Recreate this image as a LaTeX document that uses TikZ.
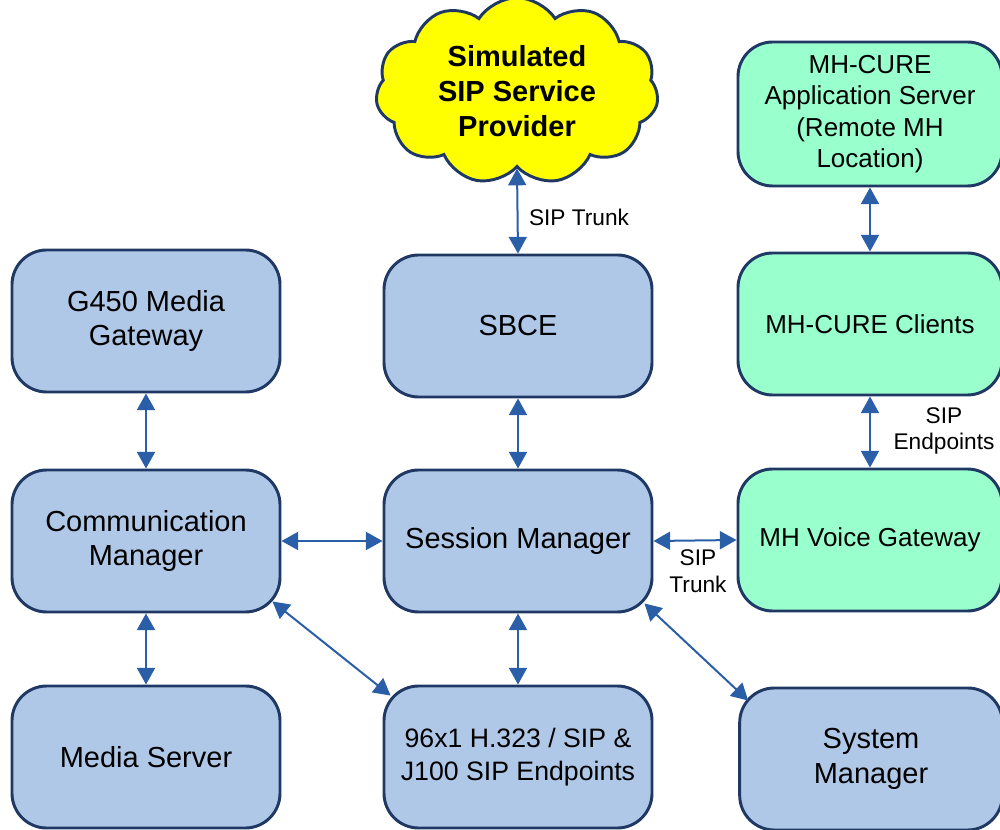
\documentclass[tikz,border=0pt]{standalone}
\usepackage{fontspec}
\setmainfont{Liberation Sans}
\usetikzlibrary{shapes.symbols,arrows.meta}
\definecolor{boxblue}{HTML}{B0C8E8}
\definecolor{boxgreen}{HTML}{99FFCC}
\definecolor{edgecol}{HTML}{1F3864}
\definecolor{arrcol}{HTML}{2A5FA8}
\definecolor{cloudyellow}{HTML}{FFFF00}
\begin{document}
\begin{tikzpicture}[x=0.75pt,y=-0.75pt,
  box/.style={draw=edgecol, line width=2.2pt, rounded corners=26pt,
    minimum width=201pt, minimum height=106.5pt, align=center,
    font=\fontsize{21.75}{26}\selectfont, inner sep=0pt},
  bluebox/.style={box, fill=boxblue},
  greenbox/.style={box, fill=boxgreen, minimum width=198pt, font=\fontsize{19.5}{23.5}\selectfont},
  link/.style={draw=arrcol, line width=1.5pt,
    {Triangle[width=13.5pt,length=12.5pt]}-{Triangle[width=13.5pt,length=12.5pt]}},
  lbl/.style={align=center, font=\fontsize{17}{20}\selectfont, inner sep=0pt}
]
\useasboundingbox (0,0) rectangle (1000,830);
% cloud
\node[cloud, cloud puffs=11, cloud puff arc=115, aspect=1.5, draw=edgecol, line width=2.2pt,
  fill=cloudyellow, minimum width=212pt, minimum height=140pt, align=center,
  font=\bfseries\fontsize{21.75}{26}\selectfont, inner sep=0pt] (sp) at (517,91)
  {Simulated\\SIP Service\\Provider};
% blue boxes
\node[bluebox] (g450) at (146,321) {G450 Media\\Gateway};
\node[bluebox] (cm) at (146,541) {Communication\\Manager};
\node[bluebox] (ms) at (146,757) {Media Server};
\node[bluebox] (sbce) at (518,326) {SBCE};
\node[bluebox] (sm) at (518,541) {Session Manager};
\node[bluebox, font=\fontsize{20}{25}\selectfont] (ep) at (518,757) {96x1 H.323 / SIP \&\\J100 SIP Endpoints};
\node[bluebox, minimum width=197pt] (sys) at (871,759) {System\\Manager};
% green boxes
\node[greenbox, minimum height=108pt] (app) at (870,114) {MH-CURE\\Application Server\\(Remote MH\\Location)};
\node[greenbox] (cl) at (870,324) {MH-CURE Clients};
\node[greenbox] (vg) at (870,540) {MH Voice Gateway};
% links
\draw[link] (sp.south) -- (sbce.north);
\draw[link] (sbce.south) -- (sm.north);
\draw[link] (g450.south) -- (cm.north);
\draw[link] (cm.south) -- (ms.north);
\draw[link] (cm.east) -- (sm.west);
\draw[link] (sm.south) -- (ep.north);
\draw[link] (sm.east) -- (vg.west);
\draw[link] (app.south) -- (cl.north);
\draw[link] (cl.south) -- (vg.north);
\draw[link] ([shift={(-9,-12)}]cm.south east) -- ([shift={(8,11)}]ep.north west);
\draw[link] ([shift={(-9,-10)}]sm.south east) -- ([shift={(10,14)}]sys.north west);
% labels
\node[lbl] (l1) at (579,217) {SIP Trunk};
\node[lbl] (l2) at (698,571) {SIP\\Trunk};
\node[lbl] (l3) at (944,431) {SIP\\Endpoints};
\end{tikzpicture}
\end{document}
